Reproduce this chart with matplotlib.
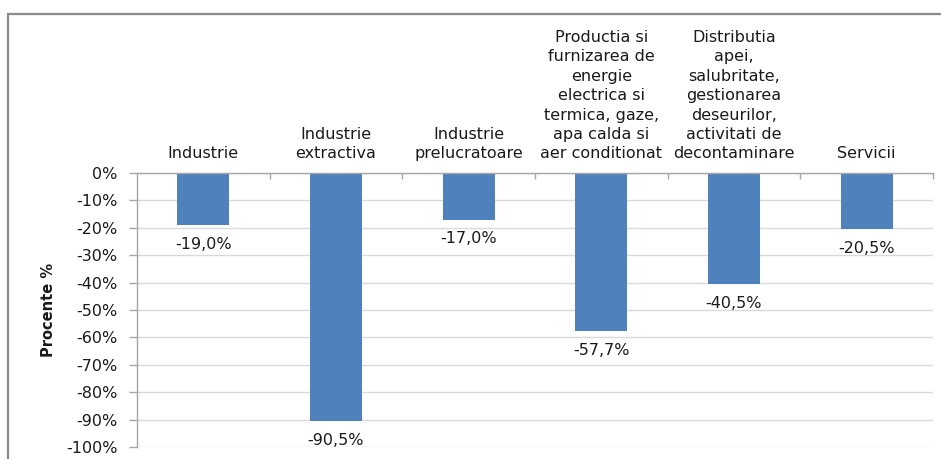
import matplotlib
matplotlib.use("Agg")
import matplotlib.pyplot as plt
from matplotlib.patches import Rectangle
from matplotlib.ticker import FixedLocator, FuncFormatter

categories = [
    "Industrie",
    "Industrie\nextractiva",
    "Industrie\nprelucratoare",
    "Productia si\nfurnizarea de\nenergie\nelectrica si\ntermica, gaze,\napa calda si\naer conditionat",
    "Distributia\napei,\nsalubritate,\ngestionarea\ndeseurilor,\nactivitati de\ndecontaminare",
    "Servicii",
]
values = [-19.0, -90.5, -17.0, -57.7, -40.5, -20.5]
y_ticks = list(range(0, -101, -10))
y_label = "Procente %"

bar_color = "#4F81BD"
text_color = "#1a1a1a"
axis_color = "#a6a6a6"
grid_color = "#d9d9d9"

plt.rcParams["font.family"] = ["DejaVu Sans"]

fig = plt.figure(figsize=(9.41, 4.59), dpi=100)
W, H = 941, 459

# outer chart frame (only top and left edges fall inside the image)
fig.patches.append(Rectangle((8 / W, -0.2), 1.5, (H - 14) / H + 0.2,
                             transform=fig.transFigure, fill=False,
                             edgecolor="#8c8c8c", linewidth=1.6))

left, right, top, bottom = 137, 933, 173, 447
ax = fig.add_axes([left / W, (H - bottom) / H, (right - left) / W, (bottom - top) / H])

x = list(range(len(categories)))
bars = ax.bar(x, values, width=0.39, color=bar_color, zorder=3)

ax.set_xlim(-0.5, len(categories) - 0.5)
ax.set_ylim(-100, 0)

# y axis
ax.yaxis.set_major_locator(FixedLocator(y_ticks))
ax.yaxis.set_major_formatter(FuncFormatter(lambda v, p: f"{int(round(v))}%"))
ax.tick_params(axis="y", direction="out", length=6, width=1, color=axis_color,
               labelsize=11.5, labelcolor=text_color, pad=8)
ax.grid(axis="y", color=grid_color, linewidth=1, zorder=0)
ax.set_axisbelow(True)

# x axis sits on the zero line, labels above
ax.xaxis.tick_top()
ax.set_xticks(x)
ax.set_xticklabels(categories)
ax.set_xticks([i - 0.5 for i in range(1, len(categories) + 1)], minor=True)
ax.tick_params(axis="x", which="major", length=0, labelsize=11.5,
               labelcolor=text_color, pad=8.3)
ax.tick_params(axis="x", which="minor", direction="in", length=4, width=1,
               color=axis_color)
for lbl in ax.get_xticklabels():
    lbl.set_linespacing(1.37)
    lbl.set_multialignment("center")

for side in ("right", "bottom"):
    ax.spines[side].set_visible(False)
for side in ("left", "top"):
    ax.spines[side].set_color(axis_color)
    ax.spines[side].set_linewidth(1)
    ax.spines[side].set_zorder(4)

ax.set_ylabel(y_label, fontsize=10.5, fontweight="bold", color=text_color)
ax.yaxis.set_label_coords((56 - left) / (right - left), 0.5)

# value labels under each bar
for rect, v in zip(bars, values):
    ax.annotate(f"{v:.1f}".replace(".", ",") + "%",
                xy=(rect.get_x() + rect.get_width() / 2, v),
                xytext=(0, -8.5), textcoords="offset points",
                ha="center", va="top", fontsize=11.5, color=text_color)

fig.savefig("out.png", dpi=100)
